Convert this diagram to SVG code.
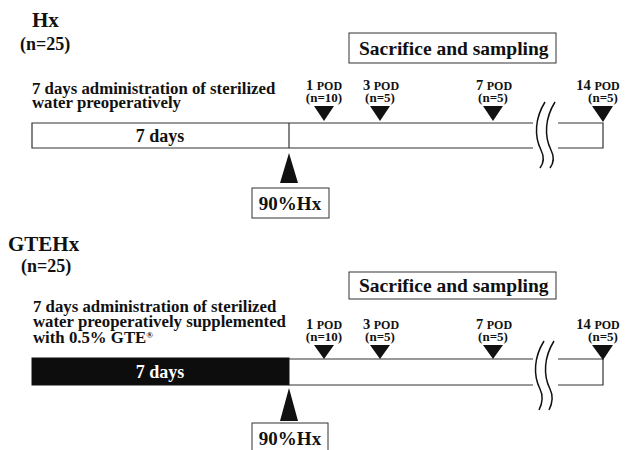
<svg xmlns="http://www.w3.org/2000/svg" width="630" height="450" viewBox="0 0 630 450">
<defs>
<style>
text{font-family:'Liberation Serif','Times New Roman',serif;font-weight:bold;fill:#111}
.title{font-size:21px}
.n{font-size:18px}
.desc{font-size:16.8px}
.box{fill:#fff;stroke:#333;stroke-width:1}
.bar{fill:#fff;stroke:#333;stroke-width:1.2}
.sac{font-size:19.5px}
.pod{font-size:14.5px;text-anchor:middle}
.sc{font-size:12px}
.pn{font-size:13px;text-anchor:middle}
.hx{font-size:19px;text-anchor:middle}
.days{font-size:18px;text-anchor:middle}
.brk{fill:none;stroke:#111;stroke-width:1.5}
.tri{fill:#111}
</style>
</defs>
<rect width="630" height="450" fill="#fff"/>

<!-- Hx section -->
<g id="hx-header">
<text class="title" x="32" y="27">Hx</text>
<text class="n" x="20" y="50">(n=25)</text>
<text class="desc" x="32" y="94">7 days administration of sterilized</text>
<text class="desc" x="32" y="108">water preoperatively</text>
</g>
<g id="hx-bar">
<path class="bar" d="M533,123 H32 V148 H533"/>
<path class="bar" d="M558,123 H603 V148 H558"/>
<line x1="289" y1="123" x2="289" y2="148" stroke="#333" stroke-width="1.2"/>
<text class="days" x="160" y="142">7 days</text>
<path class="brk" d="M545,102 C535,118 534,136 541,150 C545,158 543,164 540,168"/>
<path class="brk" d="M555,102 C545,118 544,136 551,150 C555,158 553,164 550,168"/>
</g>
<g id="hx-sampling">
<rect class="box" x="349" y="33" width="207" height="30"/>
<text class="sac" x="359" y="55">Sacrifice and sampling</text>
</g>
<g id="hx-pods">
<text class="pod" x="324" y="90">1 <tspan class="sc">POD</tspan></text>
<text class="pn" x="324" y="102">(n=10)</text>
<polygon class="tri" points="314,106 334,106 324,121"/>
<text class="pod" x="381" y="90">3 <tspan class="sc">POD</tspan></text>
<text class="pn" x="380" y="102">(n=5)</text>
<polygon class="tri" points="370,106 390,106 380,121"/>
<text class="pod" x="494" y="90">7 <tspan class="sc">POD</tspan></text>
<text class="pn" x="493" y="102">(n=5)</text>
<polygon class="tri" points="483,106 503,106 493,121"/>
<text class="pod" x="598" y="90">14 <tspan class="sc">POD</tspan></text>
<text class="pn" x="603" y="102">(n=5)</text>
<polygon class="tri" points="592,106 613,106 603,122"/>
</g>
<g id="hx-surgery">
<polygon class="tri" points="289,153 298,183 280,183"/>
<rect class="box" x="252" y="188" width="77" height="30"/>
<text class="hx" x="290" y="210">90%Hx</text>
</g>

<!-- GTEHx section -->
<g id="gtehx-header">
<text class="title" x="8" y="251" font-size="23">GTEHx</text>
<text class="n" x="21" y="272">(n=25)</text>
<text class="desc" x="33" y="312">7 days administration of sterilized</text>
<text class="desc" x="33" y="327">water preoperatively supplemented</text>
<text class="desc" x="33" y="343">with 0.5% GTE<tspan font-size="9" dy="-5">®</tspan></text>
</g>
<g id="gtehx-bar">
<rect x="32" y="358" width="257" height="27" fill="#0d0d0d" stroke="#111"/>
<path class="bar" d="M289,359 H533 M289,385 H533"/>
<path class="bar" d="M558,359 H603 V385 H558"/>
<text class="days" x="160" y="378" style="fill:#fff">7 days</text>
<path class="brk" d="M544,341 C534,357 533,375 540,389 C544,397 542,404 539,410"/>
<path class="brk" d="M554,341 C544,357 543,375 550,389 C554,397 552,404 549,410"/>
</g>
<g id="gtehx-sampling">
<rect class="box" x="349" y="272" width="207" height="27"/>
<text class="sac" x="359" y="292">Sacrifice and sampling</text>
</g>
<g id="gtehx-pods">
<text class="pod" x="324" y="329">1 <tspan class="sc">POD</tspan></text>
<text class="pn" x="324" y="341">(n=10)</text>
<polygon class="tri" points="314,345 334,345 324,359"/>
<text class="pod" x="381" y="329">3 <tspan class="sc">POD</tspan></text>
<text class="pn" x="380" y="341">(n=5)</text>
<polygon class="tri" points="370,345 390,345 380,359"/>
<text class="pod" x="494" y="329">7 <tspan class="sc">POD</tspan></text>
<text class="pn" x="493" y="341">(n=5)</text>
<polygon class="tri" points="483,345 503,345 493,359"/>
<text class="pod" x="598" y="329">14 <tspan class="sc">POD</tspan></text>
<text class="pn" x="603" y="341">(n=5)</text>
<polygon class="tri" points="592,345 613,345 603,360"/>
</g>
<g id="gtehx-surgery">
<polygon class="tri" points="289,388 298,421 280,421"/>
<rect class="box" x="252" y="423" width="76" height="30"/>
<text class="hx" x="290" y="445">90%Hx</text>
</g>
<g id="connectors"></g>
</svg>
